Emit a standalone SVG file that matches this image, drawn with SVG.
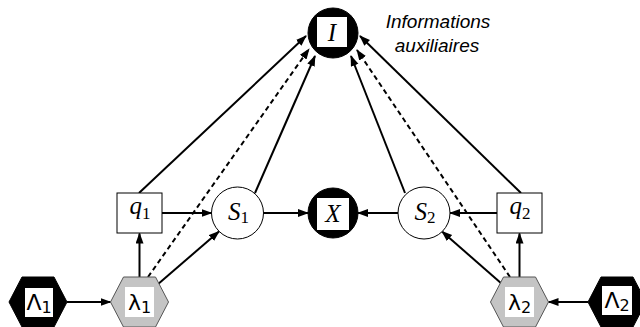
<svg xmlns="http://www.w3.org/2000/svg" width="640" height="327" viewBox="0 0 640 327">
<defs>
<marker id="ah" markerUnits="userSpaceOnUse" markerWidth="12" markerHeight="9" refX="10" refY="4" orient="auto">
<path d="M0,0 L11,4 L0,8 z" fill="#000"/>
</marker>
<style>
.edge{stroke:#000;stroke-width:2;fill:none;marker-end:url(#ah)}
.dash{stroke-dasharray:5,3.5}
.box{fill:#fff;stroke:#000;stroke-width:1}
.blk{fill:#000;stroke:#000}
.hexg{fill:#c4c4c4;stroke:#555;stroke-width:1}
.hexb{fill:#000;stroke:#000}
.wb{fill:#fff}
.m{font-family:"Liberation Serif","DejaVu Serif",serif;font-style:italic;font-size:25px;fill:#000}
.sub{font-style:normal;font-size:17px}
.g{font-family:"DejaVu Sans","Liberation Sans",sans-serif;font-size:22px;fill:#000}
.gs{font-size:16px}
.note{font-family:"Liberation Sans",Arial,sans-serif;font-style:italic;font-size:19px;fill:#000;text-anchor:middle}
</style>
</defs>

<g id="edges">
<line class="edge" x1="139.5" y1="277" x2="139.5" y2="233.5"/>
<line class="edge" x1="519.5" y1="277" x2="519.5" y2="233.5"/>
<line class="edge" x1="67" y1="302" x2="110.5" y2="302"/>
<line class="edge" x1="588" y1="302" x2="548.5" y2="302"/>
<line class="edge" x1="162" y1="213" x2="211.5" y2="213"/>
<line class="edge" x1="497" y1="213" x2="450" y2="213"/>
<line class="edge" x1="263.5" y1="213" x2="308" y2="213"/>
<line class="edge" x1="398" y1="213" x2="358" y2="213"/>
<line class="edge" x1="157" y1="285" x2="219" y2="231.5"/>
<line class="edge" x1="502" y1="284" x2="442" y2="231.5"/>
<line class="edge dash" x1="148" y1="277" x2="309" y2="49"/>
<line class="edge dash" x1="510" y1="277" x2="357" y2="50"/>
<line class="edge" x1="139" y1="193" x2="306" y2="36"/>
<line class="edge" x1="521" y1="193" x2="360" y2="36"/>
<line class="edge" x1="255" y1="193" x2="315" y2="56"/>
<line class="edge" x1="405" y1="193" x2="351" y2="56"/>
</g>

<g id="I">
<circle class="blk" cx="333" cy="33" r="25"/>
<rect class="wb" x="317" y="17" width="30" height="30"/>
<text class="m" x="332" y="41" text-anchor="middle">I</text>
</g>

<g id="X">
<circle class="blk" cx="333" cy="213" r="25"/>
<rect class="wb" x="317" y="198" width="32" height="32"/>
<text class="m" x="333" y="222" text-anchor="middle">X</text>
</g>

<g id="S1">
<circle class="box" cx="237.5" cy="213" r="26"/>
<text class="m" x="238.5" y="220" text-anchor="middle">S<tspan class="sub" dy="3">1</tspan></text>
</g>

<g id="S2">
<circle class="box" cx="424" cy="213" r="26"/>
<text class="m" x="425" y="220" text-anchor="middle">S<tspan class="sub" dy="3">2</tspan></text>
</g>

<g id="q1">
<rect class="box" x="117" y="193" width="45" height="40"/>
<text class="m" x="140" y="214" text-anchor="middle">q<tspan class="sub" dy="5">1</tspan></text>
</g>

<g id="q2">
<rect class="box" x="497" y="193" width="45" height="40"/>
<text class="m" x="520" y="214" text-anchor="middle">q<tspan class="sub" dy="5">2</tspan></text>
</g>

<g id="Lambda1">
<polygon class="hexb" points="9,302 22,277 54,277 67,302 54,327 22,327"/>
<rect class="wb" x="25" y="288" width="28" height="29"/>
<text class="g" x="39" y="310" text-anchor="middle">Λ<tspan class="gs" dy="3">1</tspan></text>
</g>

<g id="lambda1">
<polygon class="hexg" points="110.5,302 123.5,277 155.5,277 168.5,302 155.5,327 123.5,327"/>
<rect class="wb" x="125" y="287" width="29" height="30"/>
<text class="g" x="139.5" y="310" text-anchor="middle">λ<tspan class="gs" dy="3">1</tspan></text>
</g>

<g id="lambda2">
<polygon class="hexg" points="490.5,302 503.5,277 535.5,277 548.5,302 535.5,327 503.5,327"/>
<rect class="wb" x="505" y="287" width="29" height="30"/>
<text class="g" x="519.5" y="310" text-anchor="middle">λ<tspan class="gs" dy="3">2</tspan></text>
</g>

<g id="Lambda2">
<polygon class="hexb" points="588,302 601,277 633,277 646,302 633,327 601,327"/>
<rect class="wb" x="602" y="286" width="30" height="29"/>
<text class="g" x="617" y="308" text-anchor="middle">Λ<tspan class="gs" dy="3">2</tspan></text>
</g>

<g id="note">
<text class="note" x="438" y="28">Informations</text>
<text class="note" x="437" y="52">auxiliaires</text>
</g>
</svg>
